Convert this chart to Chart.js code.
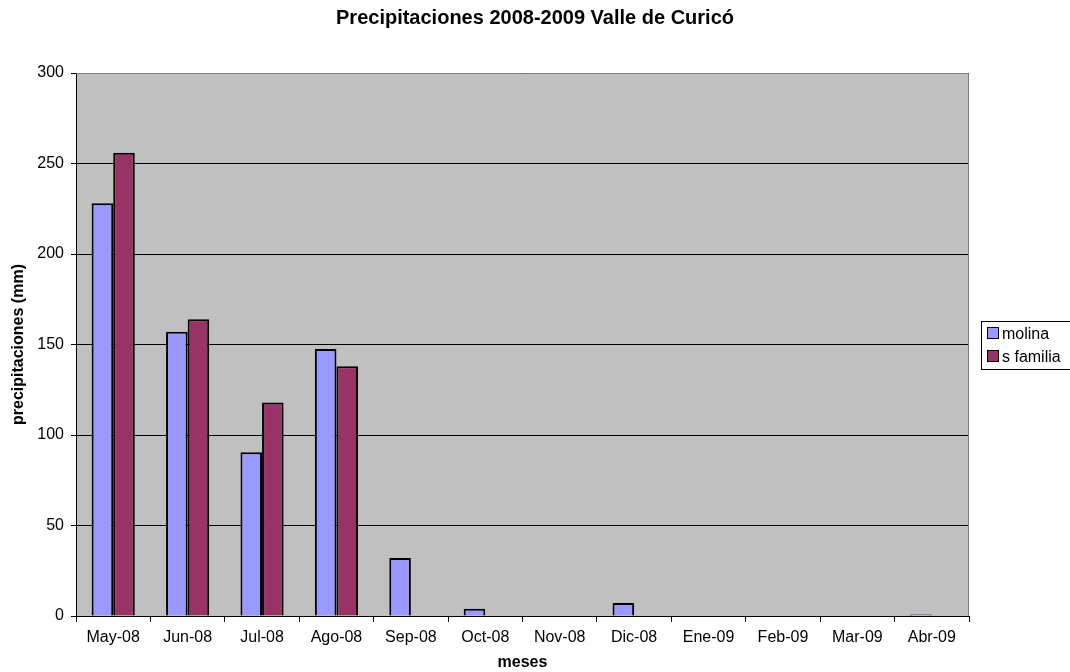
<!DOCTYPE html>
<html>
<head>
<meta charset="utf-8">
<script src="https://cdn.jsdelivr.net/npm/chart.js@4/dist/chart.umd.min.js"></script>
<style>
  html, body { margin: 0; padding: 0; background: #fff; }
  #wrap { width: 1070px; height: 672px; }
</style>
</head>
<body>
<div id="wrap"><canvas id="chart" width="1070" height="672"></canvas></div>
<script>
var meses = ['May-08', 'Jun-08', 'Jul-08', 'Ago-08', 'Sep-08', 'Oct-08', 'Nov-08', 'Dic-08', 'Ene-09', 'Feb-09', 'Mar-09', 'Abr-09'];
var molina = [228, 157, 90.5, 147.5, 32, 4, 0, 7.2, 0, 0, 0, 0.8];
var sFamilia = [256, 164, 118, 138, 0, 0, 0, 0, 0, 0, 0, 0];
var yTicks = [0, 50, 100, 150, 200, 250, 300];
var titulo = 'Precipitaciones 2008-2009 Valle de Curicó';

var FONT = '"Liberation Sans", Arial, sans-serif';

// grey plot background + thin frame like the spreadsheet chart
var plotArea = {
  id: 'plotArea',
  beforeDraw: function (chart) {
    var a = chart.chartArea, ctx = chart.ctx;
    ctx.save();
    ctx.fillStyle = '#C0C0C0';
    ctx.fillRect(a.left, a.top, a.right - a.left, a.bottom - a.top);
    ctx.restore();
  },
  afterDatasetsDraw: function (chart) {
    var a = chart.chartArea, ctx = chart.ctx;
    ctx.save();
    ctx.strokeStyle = '#808080';
    ctx.lineWidth = 1;
    ctx.beginPath();
    ctx.moveTo(a.left, a.top + 0.5);
    ctx.lineTo(a.right - 0.5, a.top + 0.5);
    ctx.lineTo(a.right - 0.5, a.bottom);
    ctx.stroke();
    ctx.restore();
  }
};

// title centred on the whole canvas, not just the plot box
var topTitle = {
  id: 'topTitle',
  afterDraw: function (chart) {
    var ctx = chart.ctx;
    ctx.save();
    ctx.font = 'bold 20px ' + FONT;
    ctx.fillStyle = '#000';
    ctx.textAlign = 'center';
    ctx.textBaseline = 'alphabetic';
    ctx.fillText(titulo, chart.width / 2, 24);
    ctx.restore();
  }
};

// boxed legend on the right
var boxLegend = {
  id: 'boxLegend',
  afterDraw: function (chart) {
    var ctx = chart.ctx;
    var x = 981, y = 321, w = 95, h = 48;
    ctx.save();
    ctx.fillStyle = '#fff';
    ctx.fillRect(x, y, w, h);
    ctx.strokeStyle = '#000';
    ctx.lineWidth = 1;
    ctx.strokeRect(x + 0.5, y + 0.5, w, h);
    ctx.font = '16px ' + FONT;
    ctx.textBaseline = 'alphabetic';
    chart.data.datasets.forEach(function (ds, i) {
      var cy = y + 12 + i * 23;
      ctx.fillStyle = ds.backgroundColor;
      ctx.fillRect(x + 6.5, cy - 5.5, 11, 11);
      ctx.strokeStyle = '#000';
      ctx.strokeRect(x + 6.5, cy - 5.5, 11, 11);
      ctx.fillStyle = '#000';
      ctx.fillText(ds.label, x + 21, cy + 6);
    });
    ctx.restore();
  }
};

new Chart(document.getElementById('chart'), {
  type: 'bar',
  data: {
    labels: meses,
    datasets: [
      { label: 'molina', data: molina, backgroundColor: '#9999FF', borderColor: '#000', borderWidth: 2, borderSkipped: 'start' },
      { label: 's familia', data: sFamilia, backgroundColor: '#993366', borderColor: '#000', borderWidth: 2, borderSkipped: 'start' }
    ]
  },
  options: {
    responsive: false,
    animation: false,
    events: [],
    layout: { padding: { top: 73, right: 101, bottom: 0, left: 0 } },
    datasets: { bar: { categoryPercentage: 0.58, barPercentage: 1 } },
    plugins: {
      legend: { display: false },
      tooltip: { enabled: false },
      title: { display: false }
    },
    scales: {
      x: {
        afterFit: function (s) { s.height = 56; },
        grid: { display: true, drawOnChartArea: false, drawTicks: true, tickLength: 6, color: '#000', offset: true },
        border: { color: '#000' },
        ticks: { color: '#000', font: { family: FONT, size: 16 }, padding: 6, maxRotation: 0, autoSkip: false },
        title: { display: true, text: 'meses', color: '#000', font: { family: FONT, size: 16, weight: 'bold' }, padding: { top: 0, bottom: 0 } }
      },
      y: {
        min: 0,
        max: 300,
        afterFit: function (s) { s.width = 76; },
        afterBuildTicks: function (s) { s.ticks = yTicks.map(function (v) { return { value: v }; }); },
        grid: { color: '#000', drawTicks: true, tickLength: 5 },
        border: { color: '#000' },
        ticks: { color: '#000', font: { family: FONT, size: 16 }, padding: 7 },
        title: { display: true, text: 'precipitaciones (mm)', color: '#000', font: { family: FONT, size: 16, weight: 'bold' }, padding: { top: 9, bottom: 0 } }
      }
    }
  },
  plugins: [plotArea, topTitle, boxLegend]
});
</script>
</body>
</html>
